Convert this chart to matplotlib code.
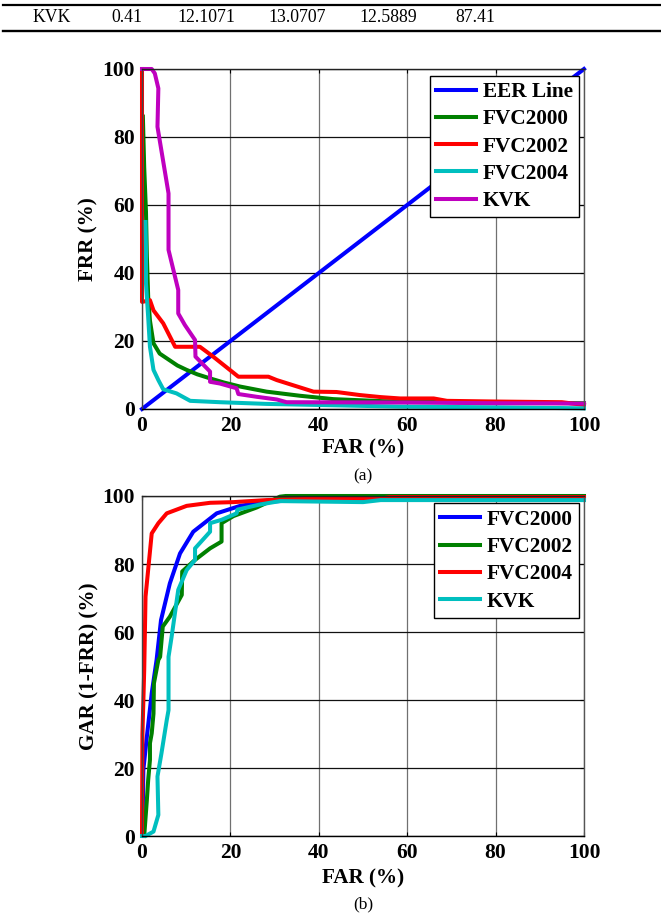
import matplotlib
matplotlib.use("Agg")
import matplotlib.pyplot as plt
from matplotlib.lines import Line2D

# ---------------- data ----------------
table_row = ["KVK", "0.41", "12.1071", "13.0707", "12.5889", "87.41"]

ticks = [0, 20, 40, 60, 80, 100]

eer_far = [0, 100]
eer_frr = [0, 100]

a_fvc2000_far = [0.2, 0.5, 0.9, 1.1, 1.4, 1.8, 2.6, 4.0, 5.6, 8.0, 10.1, 12.5, 15.4, 18.5, 22.2, 28.2, 35.7, 43.3, 54.5, 65, 80, 100]
a_fvc2000_frr = [86, 71, 58, 45, 33, 26, 19.3, 16.3, 14.9, 12.8, 11.5, 10.2, 9.0, 7.8, 6.6, 5.1, 3.9, 2.9, 2.3, 2.1, 1.9, 1.7]

a_fvc2002_far = [0, 0, 0.4, 1.8, 2.6, 4.8, 7.5, 13.1, 16.1, 21.8, 28.6, 30.5, 38.8, 44, 49.3, 54, 58.4, 66, 69, 80, 95, 100]
a_fvc2002_frr = [100, 31.5, 31.6, 32, 29, 25.2, 18.3, 18.3, 15.4, 9.5, 9.5, 8.5, 5.1, 5.0, 4.1, 3.5, 3.1, 3.1, 2.4, 2.2, 2.0, 1.2]

a_fvc2004_far = [0.8, 0.9, 0.9, 1.4, 1.8, 2.6, 3.7, 4.8, 7.8, 10.9, 17.6, 28.2, 58, 80, 100]
a_fvc2004_frr = [55, 46.8, 37, 27, 18.3, 11.5, 8.5, 5.8, 4.6, 2.4, 2.0, 1.5, 0.7, 0.5, 0.2]

a_kvk_far = [0, 2.2, 2.9, 3.7, 3.5, 6.0, 6.0, 7.1, 8.2, 8.2, 9.7, 12.0, 12.1, 15.4, 15.4, 17.6, 21.4, 21.8, 25.9, 30.5, 32.7, 60, 80, 100]
a_kvk_frr = [100, 100, 98.7, 94.3, 83, 63.4, 46.8, 40.9, 35, 28.1, 24.7, 20.3, 15.4, 11.0, 8.0, 7.5, 6.1, 4.4, 3.6, 2.8, 2.0, 1.9, 1.7, 1.6]

b_fvc2000_far = [0.1, 0.3, 1.1, 2.2, 3.3, 4.3, 6.3, 8.6, 11.6, 16.9, 22.2, 28.2, 40, 60, 100]
b_fvc2000_gar = [0, 19.4, 29.2, 42, 51.8, 63.5, 74.3, 83.1, 89.5, 94.9, 97.1, 98.3, 99.1, 99.4, 99.5]

b_fvc2002_far = [0.5, 1.1, 1.4, 1.8, 1.8, 2.2, 2.6, 2.7, 3.7, 4.1, 4.7, 6.3, 9.0, 9.1, 12.0, 15.4, 18.0, 18.0, 20.7, 25.9, 31.2, 32.5, 100]
b_fvc2002_gar = [0, 10.6, 16.5, 22.4, 27.3, 30.2, 36, 44.9, 51.8, 52.7, 61.6, 64.5, 70.9, 77.8, 81.2, 84.6, 86.6, 92, 94.1, 96.6, 99.8, 100, 100]

b_fvc2004_far = [0, 0.1, 0.5, 0.8, 2.2, 3.7, 5.6, 10.1, 15.4, 20.7, 28.2, 42, 54.5, 56, 100]
b_fvc2004_gar = [0, 30, 48.8, 70.4, 89, 92, 94.9, 97.1, 98, 98.2, 98.8, 99.3, 99.3, 99.7, 99.7]

b_kvk_far = [0, 0.8, 2.6, 3.7, 3.5, 4.4, 5.6, 6.0, 6.0, 6.7, 8.2, 10.1, 12.0, 12.0, 15.4, 15.4, 18.0, 21.4, 21.6, 26.7, 31.2, 50, 54, 100]
b_kvk_gar = [0, 0, 1.3, 6.2, 17.5, 24.3, 34.1, 37, 52.7, 58.6, 72.4, 78.2, 81.2, 84.6, 89.5, 92, 93, 94.9, 96, 97.5, 98.5, 98.2, 98.8, 98.8]

# ---------------- style ----------------
BLUE = (0, 0, 1)
GREEN = (0, 0.5, 0)
RED = (1, 0, 0)
CYAN = (0, 0.75, 0.75)
MAGENTA = (0.75, 0, 0.75)

SERIF = ["Liberation Serif", "DejaVu Serif"]
plt.rcParams['font.family'] = SERIF

W, H = 661, 914
fig = plt.figure(figsize=(W / 100, H / 100), dpi=100)

# table row at top
for xc, txt in zip([52, 127, 206, 297, 388, 475], table_row):
    fig.text(xc / W, 1 - 18 / H, txt, ha='center', va='center', fontsize=12.8)
fig.add_artist(Line2D([3 / W, 1], [1 - 5 / H, 1 - 5 / H], color='black', lw=1.6))
fig.add_artist(Line2D([3 / W, 1], [1 - 30.5 / H, 1 - 30.5 / H], color='black', lw=1.7))

LW = 2.9


def make_axes(top_px, bottom_px):
    ax = fig.add_axes([142 / W, 1 - bottom_px / H, 442 / W, (bottom_px - top_px) / H])
    ax.set_xlim(0, 100)
    ax.set_ylim(0, 100)
    ax.set_xticks(ticks)
    ax.set_yticks(ticks)
    ax.xaxis.grid(True, color='#707070', lw=0.9)
    ax.yaxis.grid(True, color='#111111', lw=0.9)
    ax.set_axisbelow(True)
    ax.tick_params(direction='in', length=3, width=0.8, top=True, right=True,
                   labelsize=15.5, pad=5)
    for lab in ax.get_xticklabels() + ax.get_yticklabels():
        lab.set_fontweight('bold')
    ax.spines['left'].set_color('#444444')
    ax.spines['right'].set_color('#555555')
    ax.spines['top'].set_color('#222222')
    ax.spines['bottom'].set_color('black')
    for s in ax.spines.values():
        s.set_linewidth(1.0)
    return ax


def style_legend(ax, top_frac):
    leg = ax.legend(loc='upper right', bbox_to_anchor=(0.989, top_frac), borderaxespad=0,
                    fancybox=False, framealpha=1, edgecolor='black',
                    prop={'family': SERIF, 'weight': 'bold', 'size': 15.3},
                    handlelength=1.9, handletextpad=0.3, labelspacing=0.34,
                    borderpad=0.3)
    leg.get_frame().set_linewidth(1.0)
    return leg


# ---------- (a) ----------
ax1 = make_axes(69, 409)
ax1.plot(eer_far, eer_frr, color=BLUE, lw=LW, label='EER Line')
ax1.plot(a_fvc2000_far, a_fvc2000_frr, color=GREEN, lw=LW, label='FVC2000')
ax1.plot(a_fvc2002_far, a_fvc2002_frr, color=RED, lw=LW, label='FVC2002')
ax1.plot(a_fvc2004_far, a_fvc2004_frr, color=CYAN, lw=LW, label='FVC2004')
ax1.plot(a_kvk_far, a_kvk_frr, color=MAGENTA, lw=LW, label='KVK')
ax1.set_xlabel('FAR (%)', fontsize=15.2, fontweight='bold')
ax1.set_ylabel('FRR (%)', fontsize=15.2, fontweight='bold')
ax1.xaxis.set_label_coords(0.5, -0.088)
ax1.yaxis.set_label_coords(-0.099, 0.5)
style_legend(ax1, 0.980)
fig.text(363 / W, 1 - 476 / H, '(a)', ha='center', va='center', fontsize=12.5)

# ---------- (b) ----------
ax2 = make_axes(496, 836)
ax2.plot(b_fvc2000_far, b_fvc2000_gar, color=BLUE, lw=LW, label='FVC2000')
ax2.plot(b_fvc2002_far, b_fvc2002_gar, color=GREEN, lw=LW, label='FVC2002')
ax2.plot(b_fvc2004_far, b_fvc2004_gar, color=RED, lw=LW, label='FVC2004')
ax2.plot(b_kvk_far, b_kvk_gar, color=CYAN, lw=LW, label='KVK')
ax2.set_xlabel('FAR (%)', fontsize=15.2, fontweight='bold')
ax2.set_ylabel('GAR (1-FRR) (%)', fontsize=15.2, fontweight='bold')
ax2.xaxis.set_label_coords(0.5, -0.097)
ax2.yaxis.set_label_coords(-0.097, 0.5)
style_legend(ax2, 0.978)
fig.text(363 / W, 1 - 904 / H, '(b)', ha='center', va='center', fontsize=12.5)

for ax in (ax1, ax2):
    for line in ax.get_lines():
        line.set_clip_on(False)
        line.set_solid_joinstyle('round')

fig.savefig('out.png', dpi=100)
